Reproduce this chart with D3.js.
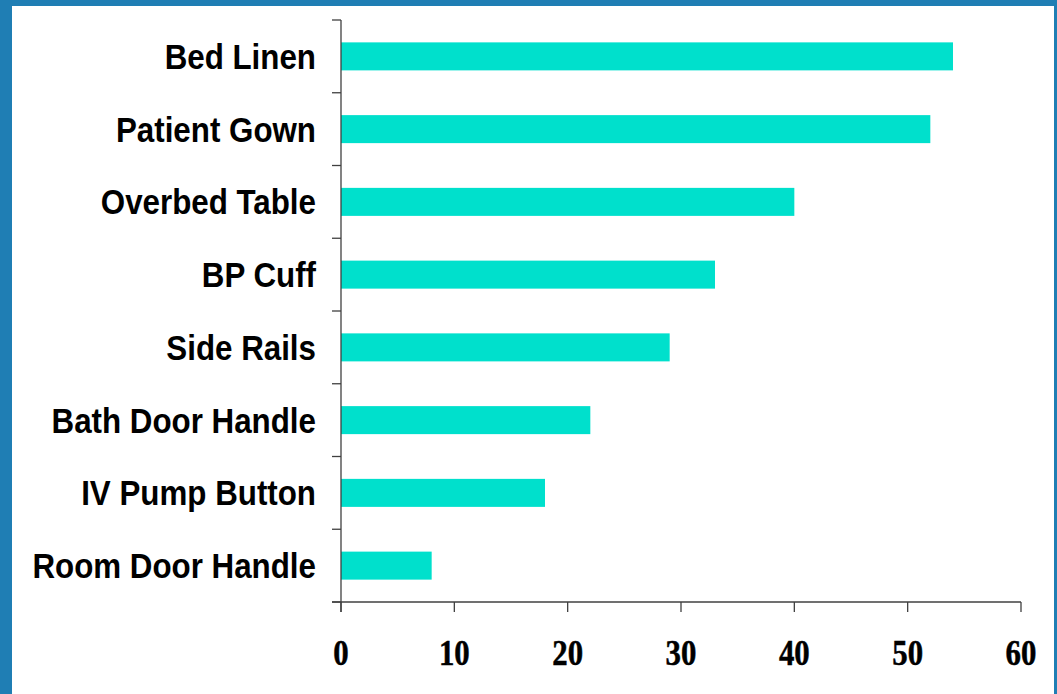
<!DOCTYPE html>
<html>
<head>
<meta charset="utf-8">
<script src="https://cdn.jsdelivr.net/npm/d3@7"></script>
<style>
  html, body { margin: 0; padding: 0; background: #ffffff; }
  svg { display: block; }
</style>
</head>
<body>
<script>
const categories = ["Bed Linen", "Patient Gown", "Overbed Table", "BP Cuff", "Side Rails", "Bath Door Handle", "IV Pump Button", "Room Door Handle"];
const values = [54, 52, 40, 33, 29, 22, 18, 8];
const xTicks = [0, 10, 20, 30, 40, 50, 60];

const W = 1057, H = 694;
const svg = d3.select("body").append("svg").attr("width", W).attr("height", H);

// blue frame
svg.append("rect").attr("x", 0).attr("y", 0).attr("width", W).attr("height", H).attr("fill", "#1F7EB4");
svg.append("rect").attr("x", 12).attr("y", 6).attr("width", W - 12 - 3).attr("height", H - 6).attr("fill", "#ffffff");

const x0 = 341, x1 = 1021, yTop = 20, yBot = 602;
const x = d3.scaleLinear().domain([0, 60]).range([x0, x1]);
const y = d3.scaleBand().domain(categories).range([yTop, yBot]).paddingInner(0.615).paddingOuter(0.3075);

const axisColor = "#404040";

// bars
svg.append("g").selectAll("rect").data(categories).join("rect")
  .attr("x", x(0))
  .attr("y", d => y(d))
  .attr("width", (d, i) => x(values[i]) - x(0))
  .attr("height", y.bandwidth())
  .attr("fill", "#00E0CC");

// y axis line and ticks (ticks at band boundaries)
const g = svg.append("g").attr("stroke", axisColor).attr("stroke-width", 1.3).attr("fill", "none");
g.append("line").attr("x1", x0).attr("x2", x0).attr("y1", yTop).attr("y2", yBot + 10);
const step = (yBot - yTop) / categories.length;
d3.range(categories.length + 1).forEach(i => {
  const yy = yTop + i * step;
  g.append("line").attr("x1", x0 - 9).attr("x2", x0).attr("y1", yy).attr("y2", yy);
});
// x axis
g.append("line").attr("x1", x0 - 9).attr("x2", x1).attr("y1", yBot).attr("y2", yBot);
xTicks.forEach(t => {
  g.append("line").attr("x1", x(t)).attr("x2", x(t)).attr("y1", yBot).attr("y2", yBot + 10);
});

// y labels
svg.append("g").selectAll("text").data(categories).join("text")
  .attr("transform", d => `translate(316,${y(d) + y.bandwidth() / 2 + 12.5}) scale(0.895,1)`)
  .attr("text-anchor", "end")
  .attr("font-family", "'Liberation Sans', Arial, sans-serif")
  .attr("font-weight", "bold")
  .attr("font-size", 35)
  .attr("fill", "#000")
  .text(d => d);

// x labels
svg.append("g").selectAll("text").data(xTicks).join("text")
  .attr("transform", d => `translate(${x(d)},665) scale(0.88,1)`)
  .attr("text-anchor", "middle")
  .attr("font-family", "'Liberation Serif', 'Times New Roman', serif")
  .attr("font-weight", "bold")
  .attr("font-size", 35)
  .attr("fill", "#000")
  .attr("stroke", "#000")
  .attr("stroke-width", 0.5)
  .text(d => d);
</script>
</body>
</html>
